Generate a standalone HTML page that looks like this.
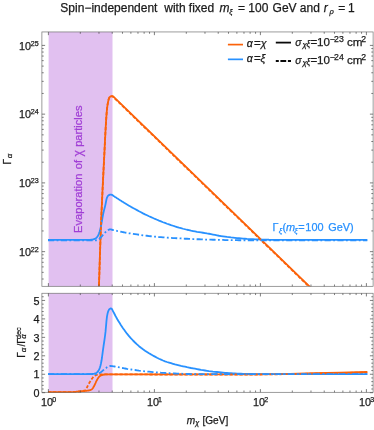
<!DOCTYPE html>
<html><head><meta charset="utf-8"><title>plot</title>
<style>html,body{margin:0;padding:0;background:#fff;}body{width:374px;height:430px;overflow:hidden;font-family:"Liberation Sans",sans-serif;}svg{display:block;}</style>
</head><body>
<svg width="374" height="430" viewBox="0 0 374 430" font-family="'Liberation Sans', sans-serif" fill="#1a1a1a" style="will-change:transform">
<defs>
<clipPath id="c1"><rect x="41.9" y="31.95" width="331.20000000000005" height="254.35000000000002"/></clipPath>
<clipPath id="c2"><rect x="41.9" y="293.25" width="331.20000000000005" height="99.75000000000001"/></clipPath>
</defs>
<rect width="374" height="430" fill="#fff"/>
<rect x="48.6" y="31.95" width="63.9" height="254.35000000000002" fill="#e1c0f0"/>
<rect x="48.6" y="293.25" width="63.9" height="99.05000000000001" fill="#e1c0f0"/>
<g clip-path="url(#c1)" fill="none" stroke-width="1.8" stroke-linejoin="round">
<path d="M98.2,310.0L98.5,300.6L98.8,291.2L99.1,281.8L99.4,272.3L99.7,262.7L100.0,253.2L100.3,244.0L100.6,235.4L100.9,227.4L101.2,220.0L101.5,212.9L101.8,206.2L102.1,199.6L102.4,193.2L102.7,186.8L103.0,180.7L103.3,174.7L103.6,168.8L103.9,162.9L104.2,157.0L104.5,150.9L104.8,144.7L105.1,138.6L105.4,132.7L105.7,127.3L106.0,122.2L106.3,117.5L106.6,113.6L106.9,110.2L107.2,107.4L107.5,105.2L107.8,103.3L108.1,101.7L108.4,100.4L108.7,99.2L109.0,98.3L109.3,97.7L109.6,97.3L109.9,96.9L110.2,96.7L110.5,96.5L110.8,96.3L111.1,96.3L111.4,96.2L111.7,96.2L112.0,96.2L112.3,96.2L112.6,96.2L112.9,96.3L113.2,96.5L113.5,96.8L113.8,97.1L114.1,97.3L114.4,97.6L114.7,97.9L115.0,98.2L115.3,98.5L115.6,98.8L115.9,99.1L116.0,99.1L312.0,288.9" stroke="#fb620a"/>
<path d="M48.0,240.2L88.0,240.2L90.0,240.1L90.5,240.1L91.0,240.0L91.5,240.0L92.0,239.9L92.5,239.8L93.0,239.7L93.5,239.6L94.0,239.4L94.5,239.2L95.0,239.0L95.5,238.7L96.0,238.4L96.5,237.9L97.0,237.4L97.5,236.7L98.0,235.9L98.5,234.8L99.0,233.6L99.5,232.2L100.0,230.6L100.5,228.6L101.0,226.3L101.5,223.9L102.0,220.9L102.5,217.8L103.0,215.0L103.5,212.7L104.0,210.6L104.5,208.7L105.0,206.7L105.5,204.6L106.0,202.0L106.5,199.5L107.0,197.8L107.5,196.8L108.0,196.1L108.5,195.6L109.0,195.3L109.5,195.1L110.0,194.9L110.5,194.9L111.0,194.9L111.5,195.0L112.0,195.2L112.5,195.4L113.0,195.8L113.5,196.2L114.0,196.5L114.5,196.8L115.0,197.2L115.5,197.5L116.0,197.8L116.5,198.1L117.0,198.5L117.5,198.8L118.0,199.1L118.5,199.4L119.0,199.8L119.5,200.1L120.0,200.4L120.5,200.7L121.0,201.0L121.5,201.3L122.0,201.7L122.5,202.0L123.0,202.3L123.5,202.6L124.0,202.9L124.5,203.2L125.0,203.5L127.0,204.7L129.0,205.9L131.0,207.1L133.0,208.2L135.0,209.3L137.0,210.4L139.0,211.5L141.0,212.5L143.0,213.6L145.0,214.6L147.0,215.5L149.0,216.5L151.0,217.4L153.0,218.3L155.0,219.2L157.0,220.0L159.0,220.9L161.0,221.7L163.0,222.5L165.0,223.2L167.0,224.0L169.0,224.7L171.0,225.4L173.0,226.0L175.0,226.7L177.0,227.3L179.0,227.9L181.0,228.4L183.0,229.0L185.0,229.5L187.0,230.0L189.0,230.4L191.0,230.9L193.0,231.3L195.0,231.7L197.0,232.1L199.0,232.4L201.0,232.7L203.0,233.0L205.0,233.3L207.0,233.7L209.0,234.0L211.0,234.4L213.0,234.8L215.0,235.2L217.0,235.6L219.0,236.0L221.0,236.3L223.0,236.6L225.0,236.9L227.0,237.2L229.0,237.4L231.0,237.7L233.0,237.9L235.0,238.1L237.0,238.4L239.0,238.5L241.0,238.7L243.0,238.9L245.0,239.0L247.0,239.2L249.0,239.3L251.0,239.4L253.0,239.5L255.0,239.6L257.0,239.7L259.0,239.7L261.0,239.8L263.0,239.8L265.0,239.9L267.0,239.9L269.0,240.0L290.0,240.1L320.0,240.2L345.0,240.2L367.3,240.2" stroke="#2891ff" transform="translate(0,-0.25)"/>
<path d="M98.2,310.0L98.5,300.6L98.8,291.2L99.1,281.8L99.4,272.3L99.7,262.7L100.0,253.2L100.3,244.0L100.6,235.4L100.9,227.4L101.2,220.0L101.5,212.9L101.8,206.2L102.1,199.6L102.4,193.2L102.7,186.8L103.0,180.7L103.3,174.7L103.6,168.8L103.9,162.9L104.2,157.0L104.5,150.9L104.8,144.7L105.1,138.6L105.4,132.7L105.7,127.3L106.0,122.2L106.3,117.5L106.6,113.6L106.9,110.2L107.2,107.4L107.5,105.2L107.8,103.3L108.1,101.7L108.4,100.4L108.7,99.2L109.0,98.3L109.3,97.7L109.6,97.3L109.9,96.9L110.2,96.7L110.5,96.5L110.8,96.4L111.1,96.3L111.3,96.3L111.6,96.3L111.9,96.3L112.2,96.3L112.5,96.3L112.7,96.5L113.0,96.8L113.3,97.0L113.6,97.3L113.8,97.6L114.1,97.9L114.4,98.2L114.7,98.5L115.0,98.8L115.3,99.1L115.6,99.4L115.7,99.4L311.7,289.2" stroke="#fb620a" stroke-dasharray="3.2 1.8"/>
<path d="M48.0,240.2L88.0,240.2L90.0,240.2L90.5,240.2L91.0,240.2L91.5,240.2L92.0,240.2L92.5,240.2L93.0,240.2L93.5,240.2L94.0,240.2L94.5,240.2L95.0,240.2L95.5,240.1L96.0,240.1L96.5,240.0L97.0,239.9L97.5,239.7L98.0,239.5L98.5,239.2L99.0,238.9L99.5,238.5L100.0,238.0L100.5,237.5L101.0,237.0L101.5,236.4L102.0,235.8L102.5,235.2L103.0,234.6L103.5,234.0L104.0,233.5L104.5,232.9L105.0,232.4L105.5,231.9L106.0,231.4L106.5,231.0L107.0,230.6L107.5,230.2L108.0,229.9L108.5,229.7L109.0,229.4L109.5,229.2L110.0,229.1L110.5,229.1L111.0,229.2L111.5,229.4L112.0,229.5L112.5,229.6L113.0,229.8L113.5,229.9L114.0,230.0L114.5,230.1L115.0,230.2L115.5,230.3L116.0,230.4L116.5,230.5L117.0,230.7L117.5,230.8L118.0,230.9L118.5,231.0L119.0,231.1L119.5,231.2L120.0,231.3L120.5,231.4L121.0,231.5L121.5,231.6L122.0,231.7L122.5,231.8L123.0,231.9L123.5,232.0L124.0,232.1L124.5,232.2L125.0,232.3L127.0,232.6L129.0,233.0L131.0,233.3L133.0,233.6L135.0,233.9L137.0,234.2L139.0,234.5L141.0,234.8L143.0,235.1L145.0,235.3L147.0,235.5L149.0,235.8L151.0,236.0L153.0,236.2L155.0,236.4L157.0,236.6L159.0,236.8L161.0,236.9L163.0,237.1L165.0,237.2L167.0,237.4L169.0,237.5L171.0,237.7L173.0,237.8L175.0,237.9L177.0,238.0L179.0,238.1L181.0,238.2L183.0,238.4L185.0,238.5L187.0,238.5L189.0,238.6L191.0,238.7L193.0,238.8L195.0,238.9L197.0,239.0L199.0,239.0L201.0,239.1L203.0,239.2L205.0,239.3L207.0,239.3L209.0,239.4L211.0,239.4L213.0,239.5L215.0,239.5L217.0,239.6L219.0,239.6L221.0,239.7L223.0,239.7L225.0,239.8L227.0,239.8L229.0,239.8L231.0,239.9L233.0,239.9L235.0,239.9L237.0,239.9L239.0,240.0L241.0,240.0L243.0,240.0L245.0,240.0L247.0,240.0L249.0,240.0L251.0,240.1L253.0,240.1L255.0,240.1L257.0,240.1L259.0,240.1L261.0,240.1L263.0,240.1L265.0,240.1L267.0,240.1L269.0,240.1L290.0,240.2L320.0,240.2L345.0,240.2L367.3,240.2" stroke="#2891ff" stroke-dasharray="6.2 2.4 1.8 2.4" transform="translate(0,0.25)"/>
</g>
<g clip-path="url(#c2)" fill="none" stroke-width="1.8" stroke-linejoin="round">
<path d="M48.0,392.1L60.0,392.1L70.0,392.1L76.0,391.8L76.5,391.7L77.0,391.7L77.5,391.6L78.0,391.6L78.5,391.5L79.0,391.5L79.5,391.4L80.0,391.4L80.5,391.3L81.0,391.3L81.5,391.2L82.0,391.2L82.5,391.1L83.0,391.1L83.5,391.0L84.0,391.0L84.5,391.0L85.0,390.9L85.5,390.9L86.0,390.8L86.5,390.8L87.0,390.7L87.5,390.7L88.0,390.6L88.5,390.5L89.0,390.4L89.5,390.4L90.0,390.2L90.5,390.1L91.0,389.8L91.5,389.5L92.0,389.1L92.5,388.6L93.0,387.9L93.5,387.1L94.0,386.2L94.5,385.3L95.0,384.2L95.5,383.1L96.0,381.9L96.5,380.9L97.0,380.0L97.5,379.1L98.0,378.2L98.5,377.5L99.0,376.9L99.5,376.4L100.0,376.0L100.5,375.7L101.0,375.5L101.5,375.2L102.0,375.1L102.5,374.9L103.0,374.8L103.5,374.6L104.0,374.5L104.5,374.5L105.0,374.4L105.5,374.4L106.0,374.4L106.5,374.4L107.0,374.4L107.5,374.4L108.0,374.4L108.5,374.4L109.0,374.4L109.5,374.4L110.0,374.4L110.5,374.4L111.0,374.4L111.5,374.4L112.0,374.4L160.0,374.4L200.0,374.4L230.0,374.4L260.0,374.3L290.0,373.8L314.0,373.2L340.0,372.7L367.3,372.0" stroke="#fb620a"/>
<path d="M48.0,374.2L88.0,374.2L90.0,374.2L90.5,374.2L91.0,374.2L91.5,374.1L92.0,374.1L92.5,374.0L93.0,373.9L93.5,373.9L94.0,373.8L94.5,373.6L95.0,373.5L95.5,373.3L96.0,373.1L96.5,372.8L97.0,372.4L97.5,372.0L98.0,371.4L98.5,370.6L99.0,369.7L99.5,368.6L100.0,367.2L100.5,365.5L101.0,363.3L101.5,360.8L102.0,357.5L102.5,353.6L103.0,349.8L103.5,346.3L104.0,343.0L104.5,339.7L105.0,336.0L105.5,331.9L106.0,326.4L106.5,320.6L107.0,316.4L107.5,313.8L108.0,311.9L108.5,310.7L109.0,309.7L109.5,309.1L110.0,308.7L110.5,308.4L111.0,308.5L111.5,308.7L112.0,309.2L112.5,310.1L113.0,311.2L113.5,312.1L114.0,313.0L114.5,314.0L115.0,315.0L115.5,316.0L116.0,316.9L116.5,317.8L117.0,318.7L117.5,319.6L118.0,320.4L118.5,321.2L119.0,322.0L119.5,322.8L120.0,323.6L120.5,324.4L121.0,325.2L121.5,325.9L122.0,326.7L122.5,327.5L123.0,328.2L123.5,328.9L124.0,329.6L124.5,330.3L125.0,331.0L127.0,333.7L129.0,336.1L131.0,338.4L133.0,340.5L135.0,342.5L137.0,344.4L139.0,346.2L141.0,347.8L143.0,349.3L145.0,350.7L147.0,352.0L149.0,353.3L151.0,354.4L153.0,355.6L155.0,356.6L157.0,357.7L159.0,358.7L161.0,359.6L163.0,360.5L165.0,361.3L167.0,362.0L169.0,362.6L171.0,363.2L173.0,363.8L175.0,364.4L177.0,364.9L179.0,365.4L181.0,365.9L183.0,366.3L185.0,366.7L187.0,367.2L189.0,367.6L191.0,368.0L193.0,368.3L195.0,368.7L197.0,369.1L199.0,369.5L201.0,369.9L203.0,370.2L205.0,370.5L207.0,370.8L209.0,371.1L211.0,371.3L213.0,371.6L215.0,371.8L217.0,372.0L219.0,372.2L221.0,372.4L223.0,372.6L225.0,372.8L227.0,372.9L229.0,373.1L231.0,373.2L233.0,373.3L235.0,373.4L237.0,373.6L239.0,373.7L241.0,373.7L243.0,373.8L245.0,373.9L247.0,373.9L249.0,374.0L251.0,374.0L253.0,374.1L255.0,374.1L257.0,374.1L259.0,374.1L261.0,374.2L263.0,374.2L265.0,374.2L267.0,374.2L269.0,374.2L290.0,374.2L320.0,374.2L345.0,374.2L367.3,374.2" stroke="#2891ff"/>
<path d="M48.0,392.1L60.0,392.1L70.0,392.1L76.0,391.8L76.5,391.8L77.0,391.8L77.5,391.7L78.0,391.7L78.5,391.6L79.0,391.6L79.5,391.6L80.0,391.5L80.5,391.5L81.0,391.4L81.5,391.3L82.0,391.2L82.5,391.1L83.0,391.0L83.5,390.9L84.0,390.7L84.5,390.6L85.0,390.4L85.5,390.1L86.0,389.4L86.5,388.4L87.0,387.4L87.5,386.3L88.0,385.2L88.5,384.3L89.0,383.4L89.5,382.6L90.0,381.8L90.5,380.9L91.0,380.1L91.5,379.4L92.0,378.6L92.5,378.0L93.0,377.3L93.5,376.7L94.0,376.3L94.5,375.9L95.0,375.6L95.5,375.4L96.0,375.1L96.5,374.9L97.0,374.8L97.5,374.7L98.0,374.6L98.5,374.5L99.0,374.5L99.5,374.4L100.0,374.4L100.5,374.4L101.0,374.4L101.5,374.4L102.0,374.4L102.5,374.4L103.0,374.4L103.5,374.4L104.0,374.4L104.5,374.4L105.0,374.4L105.5,374.4L106.0,374.4L106.5,374.4L107.0,374.4L107.5,374.4L108.0,374.4L108.5,374.4L109.0,374.4L109.5,374.4L110.0,374.4L110.5,374.4L111.0,374.4L111.5,374.4L112.0,374.4L160.0,374.5L200.0,374.5L230.0,374.5L260.0,374.5L290.0,374.1L314.0,373.6L340.0,373.0L367.3,372.4" stroke="#fb620a" stroke-dasharray="3.2 1.8"/>
<path d="M48.0,374.2L88.0,374.2L90.0,374.2L90.5,374.2L91.0,374.2L91.5,374.2L92.0,374.2L92.5,374.2L93.0,374.2L93.5,374.2L94.0,374.2L94.5,374.2L95.0,374.2L95.5,374.2L96.0,374.2L96.5,374.1L97.0,374.1L97.5,373.9L98.0,373.8L98.5,373.6L99.0,373.4L99.5,373.1L100.0,372.8L100.5,372.5L101.0,372.1L101.5,371.7L102.0,371.3L102.5,370.9L103.0,370.4L103.5,370.0L104.0,369.6L104.5,369.1L105.0,368.7L105.5,368.3L106.0,368.0L106.5,367.6L107.0,367.2L107.5,366.9L108.0,366.6L108.5,366.4L109.0,366.2L109.5,366.1L110.0,366.0L110.5,365.9L111.0,366.0L111.5,366.1L112.0,366.1L112.5,366.2L113.0,366.3L113.5,366.3L114.0,366.4L114.5,366.5L115.0,366.6L115.5,366.7L116.0,366.8L116.5,366.8L117.0,366.9L117.5,367.0L118.0,367.1L118.5,367.2L119.0,367.3L119.5,367.4L120.0,367.5L120.5,367.6L121.0,367.7L121.5,367.8L122.0,367.9L122.5,368.0L123.0,368.1L123.5,368.2L124.0,368.3L124.5,368.4L125.0,368.5L127.0,368.9L129.0,369.2L131.0,369.5L133.0,369.8L135.0,370.0L137.0,370.3L139.0,370.6L141.0,370.8L143.0,371.1L145.0,371.3L147.0,371.5L149.0,371.7L151.0,371.9L153.0,372.1L155.0,372.2L157.0,372.4L159.0,372.5L161.0,372.7L163.0,372.8L165.0,372.9L167.0,373.1L169.0,373.2L171.0,373.3L173.0,373.4L175.0,373.5L177.0,373.6L179.0,373.6L181.0,373.7L183.0,373.8L185.0,373.9L187.0,374.0L189.0,374.0L191.0,374.1L193.0,374.1L195.0,374.1L197.0,374.2L199.0,374.2L201.0,374.2L203.0,374.2L205.0,374.2L207.0,374.2L209.0,374.2L211.0,374.2L213.0,374.2L215.0,374.2L217.0,374.2L219.0,374.2L221.0,374.2L223.0,374.2L225.0,374.2L227.0,374.2L229.0,374.2L231.0,374.2L233.0,374.2L235.0,374.2L237.0,374.2L239.0,374.2L241.0,374.2L243.0,374.2L245.0,374.2L247.0,374.2L249.0,374.2L251.0,374.2L253.0,374.2L255.0,374.2L257.0,374.2L259.0,374.2L261.0,374.2L263.0,374.2L265.0,374.2L267.0,374.2L269.0,374.2L290.0,374.2L320.0,374.2L345.0,374.2L367.3,374.2" stroke="#2891ff" stroke-dasharray="6.2 2.4 1.8 2.4"/>
</g>
<g fill="none" stroke="#727272" stroke-width="0.7">
<rect x="41.9" y="31.95" width="331.20000000000005" height="254.35000000000002"/>
<rect x="41.9" y="293.25" width="331.20000000000005" height="99.05000000000001"/>
<path stroke="#484848" stroke-width="0.7" d="M48.40,286.30L48.40,283.10M48.40,31.95L48.40,35.15M48.40,392.30L48.40,389.10M48.40,293.25L48.40,296.45M80.31,286.30L80.31,284.50M80.31,31.95L80.31,33.75M80.31,392.30L80.31,390.50M80.31,293.25L80.31,295.05M98.97,286.30L98.97,284.50M98.97,31.95L98.97,33.75M98.97,392.30L98.97,390.50M98.97,293.25L98.97,295.05M112.22,286.30L112.22,284.50M112.22,31.95L112.22,33.75M112.22,392.30L112.22,390.50M112.22,293.25L112.22,295.05M122.49,286.30L122.49,284.50M122.49,31.95L122.49,33.75M122.49,392.30L122.49,390.50M122.49,293.25L122.49,295.05M130.88,286.30L130.88,284.50M130.88,31.95L130.88,33.75M130.88,392.30L130.88,390.50M130.88,293.25L130.88,295.05M137.98,286.30L137.98,284.50M137.98,31.95L137.98,33.75M137.98,392.30L137.98,390.50M137.98,293.25L137.98,295.05M144.13,286.30L144.13,284.50M144.13,31.95L144.13,33.75M144.13,392.30L144.13,390.50M144.13,293.25L144.13,295.05M149.55,286.30L149.55,284.50M149.55,31.95L149.55,33.75M149.55,392.30L149.55,390.50M149.55,293.25L149.55,295.05M154.40,286.30L154.40,283.10M154.40,31.95L154.40,35.15M154.40,392.30L154.40,389.10M154.40,293.25L154.40,296.45M186.31,286.30L186.31,284.50M186.31,31.95L186.31,33.75M186.31,392.30L186.31,390.50M186.31,293.25L186.31,295.05M204.97,286.30L204.97,284.50M204.97,31.95L204.97,33.75M204.97,392.30L204.97,390.50M204.97,293.25L204.97,295.05M218.22,286.30L218.22,284.50M218.22,31.95L218.22,33.75M218.22,392.30L218.22,390.50M218.22,293.25L218.22,295.05M228.49,286.30L228.49,284.50M228.49,31.95L228.49,33.75M228.49,392.30L228.49,390.50M228.49,293.25L228.49,295.05M236.88,286.30L236.88,284.50M236.88,31.95L236.88,33.75M236.88,392.30L236.88,390.50M236.88,293.25L236.88,295.05M243.98,286.30L243.98,284.50M243.98,31.95L243.98,33.75M243.98,392.30L243.98,390.50M243.98,293.25L243.98,295.05M250.13,286.30L250.13,284.50M250.13,31.95L250.13,33.75M250.13,392.30L250.13,390.50M250.13,293.25L250.13,295.05M255.55,286.30L255.55,284.50M255.55,31.95L255.55,33.75M255.55,392.30L255.55,390.50M255.55,293.25L255.55,295.05M260.40,286.30L260.40,283.10M260.40,31.95L260.40,35.15M260.40,392.30L260.40,389.10M260.40,293.25L260.40,296.45M292.31,286.30L292.31,284.50M292.31,31.95L292.31,33.75M292.31,392.30L292.31,390.50M292.31,293.25L292.31,295.05M310.97,286.30L310.97,284.50M310.97,31.95L310.97,33.75M310.97,392.30L310.97,390.50M310.97,293.25L310.97,295.05M324.22,286.30L324.22,284.50M324.22,31.95L324.22,33.75M324.22,392.30L324.22,390.50M324.22,293.25L324.22,295.05M334.49,286.30L334.49,284.50M334.49,31.95L334.49,33.75M334.49,392.30L334.49,390.50M334.49,293.25L334.49,295.05M342.88,286.30L342.88,284.50M342.88,31.95L342.88,33.75M342.88,392.30L342.88,390.50M342.88,293.25L342.88,295.05M349.98,286.30L349.98,284.50M349.98,31.95L349.98,33.75M349.98,392.30L349.98,390.50M349.98,293.25L349.98,295.05M356.13,286.30L356.13,284.50M356.13,31.95L356.13,33.75M356.13,392.30L356.13,390.50M356.13,293.25L356.13,295.05M361.55,286.30L361.55,284.50M361.55,31.95L361.55,33.75M361.55,392.30L361.55,390.50M361.55,293.25L361.55,295.05M366.40,286.30L366.40,283.10M366.40,31.95L366.40,35.15M366.40,392.30L366.40,389.10M366.40,293.25L366.40,296.45M41.90,279.01L43.70,279.01M373.10,279.01L371.30,279.01M41.90,272.35L43.70,272.35M373.10,272.35L371.30,272.35M41.90,266.90L43.70,266.90M373.10,266.90L371.30,266.90M41.90,262.30L43.70,262.30M373.10,262.30L371.30,262.30M41.90,258.31L43.70,258.31M373.10,258.31L371.30,258.31M41.90,254.80L43.70,254.80M373.10,254.80L371.30,254.80M41.90,251.65L45.10,251.65M373.10,251.65L369.90,251.65M41.90,230.95L43.70,230.95M373.10,230.95L371.30,230.95M41.90,218.85L43.70,218.85M373.10,218.85L371.30,218.85M41.90,210.26L43.70,210.26M373.10,210.26L371.30,210.26M41.90,203.60L43.70,203.60M373.10,203.60L371.30,203.60M41.90,198.15L43.70,198.15M373.10,198.15L371.30,198.15M41.90,193.55L43.70,193.55M373.10,193.55L371.30,193.55M41.90,189.56L43.70,189.56M373.10,189.56L371.30,189.56M41.90,186.05L43.70,186.05M373.10,186.05L371.30,186.05M41.90,182.90L45.10,182.90M373.10,182.90L369.90,182.90M41.90,162.20L43.70,162.20M373.10,162.20L371.30,162.20M41.90,150.10L43.70,150.10M373.10,150.10L371.30,150.10M41.90,141.51L43.70,141.51M373.10,141.51L371.30,141.51M41.90,134.85L43.70,134.85M373.10,134.85L371.30,134.85M41.90,129.40L43.70,129.40M373.10,129.40L371.30,129.40M41.90,124.80L43.70,124.80M373.10,124.80L371.30,124.80M41.90,120.81L43.70,120.81M373.10,120.81L371.30,120.81M41.90,117.30L43.70,117.30M373.10,117.30L371.30,117.30M41.90,114.15L45.10,114.15M373.10,114.15L369.90,114.15M41.90,93.45L43.70,93.45M373.10,93.45L371.30,93.45M41.90,81.35L43.70,81.35M373.10,81.35L371.30,81.35M41.90,72.76L43.70,72.76M373.10,72.76L371.30,72.76M41.90,66.10L43.70,66.10M373.10,66.10L371.30,66.10M41.90,60.65L43.70,60.65M373.10,60.65L371.30,60.65M41.90,56.05L43.70,56.05M373.10,56.05L371.30,56.05M41.90,52.06L43.70,52.06M373.10,52.06L371.30,52.06M41.90,48.55L43.70,48.55M373.10,48.55L371.30,48.55M41.90,45.40L45.10,45.40M373.10,45.40L369.90,45.40M41.90,392.70L45.10,392.70M373.10,392.70L369.90,392.70M41.90,389.01L43.70,389.01M373.10,389.01L371.30,389.01M41.90,385.32L43.70,385.32M373.10,385.32L371.30,385.32M41.90,381.63L43.70,381.63M373.10,381.63L371.30,381.63M41.90,377.94L43.70,377.94M373.10,377.94L371.30,377.94M41.90,374.25L45.10,374.25M373.10,374.25L369.90,374.25M41.90,370.56L43.70,370.56M373.10,370.56L371.30,370.56M41.90,366.87L43.70,366.87M373.10,366.87L371.30,366.87M41.90,363.18L43.70,363.18M373.10,363.18L371.30,363.18M41.90,359.49L43.70,359.49M373.10,359.49L371.30,359.49M41.90,355.80L45.10,355.80M373.10,355.80L369.90,355.80M41.90,352.11L43.70,352.11M373.10,352.11L371.30,352.11M41.90,348.42L43.70,348.42M373.10,348.42L371.30,348.42M41.90,344.73L43.70,344.73M373.10,344.73L371.30,344.73M41.90,341.04L43.70,341.04M373.10,341.04L371.30,341.04M41.90,337.35L45.10,337.35M373.10,337.35L369.90,337.35M41.90,333.66L43.70,333.66M373.10,333.66L371.30,333.66M41.90,329.97L43.70,329.97M373.10,329.97L371.30,329.97M41.90,326.28L43.70,326.28M373.10,326.28L371.30,326.28M41.90,322.59L43.70,322.59M373.10,322.59L371.30,322.59M41.90,318.90L45.10,318.90M373.10,318.90L369.90,318.90M41.90,315.21L43.70,315.21M373.10,315.21L371.30,315.21M41.90,311.52L43.70,311.52M373.10,311.52L371.30,311.52M41.90,307.83L43.70,307.83M373.10,307.83L371.30,307.83M41.90,304.14L43.70,304.14M373.10,304.14L371.30,304.14M41.90,300.45L45.10,300.45M373.10,300.45L369.90,300.45M41.90,296.76L43.70,296.76M373.10,296.76L371.30,296.76"/>
</g>
<g color="#1a1a1a" fill="currentColor" stroke="currentColor" stroke-width="0.25">
<text x="60.36" y="12.00" font-size="12.0">Spin−independent</text>
<text x="164.22" y="12.00" font-size="12.0">with</text>
<text x="188.83" y="12.00" font-size="12.0">fixed</text>
<text x="219.50" y="12.00" font-size="12.0" font-style="italic">m</text>
<text x="237.91" y="12.00" font-size="12.0">=</text>
<text x="248.29" y="12.00" font-size="12.0">100</text>
<text x="272.60" y="12.00" font-size="12.0">GeV</text>
<text x="299.79" y="12.00" font-size="12.0">and</text>
<text x="323.70" y="12.00" font-size="12.0" font-style="italic">r</text>
<text x="338.21" y="12.00" font-size="12.0">=</text>
<text x="347.99" y="12.00" font-size="12.0">1</text>
<text x="229.30" y="14.30" font-size="7.5" font-style="italic">ξ</text>
<text x="329.38" y="14.30" font-size="7.5" font-style="italic">ρ</text>
<text transform="translate(82.20,232.91) rotate(-90)" font-size="11.1" color="#a13fd6">Evaporation</text>
<text transform="translate(82.20,169.17) rotate(-90)" font-size="11.1" color="#a13fd6">of</text>
<text transform="translate(82.20,156.43) rotate(-90)" font-size="12.3" color="#a13fd6">χ</text>
<text transform="translate(82.20,146.82) rotate(-90)" font-size="11.1" color="#a13fd6">particles</text>
<text x="18.98" y="255.75" font-size="10.8">10</text>
<text x="30.84" y="251.85" font-size="7.1">22</text>
<text x="18.98" y="187.00" font-size="10.8">10</text>
<text x="30.84" y="183.10" font-size="7.1">23</text>
<text x="18.98" y="118.25" font-size="10.8">10</text>
<text x="30.84" y="114.35" font-size="7.1">24</text>
<text x="18.98" y="49.50" font-size="10.8">10</text>
<text x="30.84" y="45.60" font-size="7.1">25</text>
<text x="39.52" y="396.85" font-size="10.8" text-anchor="end">0</text>
<text x="39.63" y="378.40" font-size="10.8" text-anchor="end">1</text>
<text x="39.64" y="359.95" font-size="10.8" text-anchor="end">2</text>
<text x="39.57" y="341.50" font-size="10.8" text-anchor="end">3</text>
<text x="39.42" y="323.05" font-size="10.8" text-anchor="end">4</text>
<text x="39.55" y="304.60" font-size="10.8" text-anchor="end">5</text>
<text x="41.08" y="406.00" font-size="10.8">10</text>
<text x="52.32" y="402.00" font-size="7.1">0</text>
<text x="147.08" y="406.00" font-size="10.8">10</text>
<text x="158.06" y="402.00" font-size="7.1">1</text>
<text x="253.08" y="406.00" font-size="10.8">10</text>
<text x="264.24" y="402.00" font-size="7.1">2</text>
<text x="359.08" y="406.00" font-size="10.8">10</text>
<text x="370.33" y="402.00" font-size="7.1">3</text>
<text transform="translate(10.50,164.53) rotate(-90)" font-size="10.1">Γ</text>
<text transform="translate(12.20,158.17) rotate(-90)" font-size="7.8" font-style="italic">α</text>
<text transform="translate(24.50,357.83) rotate(-90)" font-size="10.1">Γ</text>
<text transform="translate(26.00,352.17) rotate(-90)" font-size="7.8" font-style="italic">α</text>
<text transform="translate(24.50,346.50) rotate(-90)" font-size="10.1">/</text>
<text transform="translate(24.50,343.73) rotate(-90)" font-size="10.1">Γ</text>
<text transform="translate(26.40,338.67) rotate(-90)" font-size="7.8" font-style="italic">α</text>
<text transform="translate(20.70,339.11) rotate(-90)" font-size="7.4">dec</text>
<text x="186.63" y="423.80" font-size="10.1" font-style="italic">m</text>
<text x="195.13" y="425.40" font-size="7.3" font-style="italic">χ</text>
<text x="202.48" y="423.80" font-size="10.1">[GeV]</text>
<text x="272.46" y="230.50" font-size="10.9" color="#2891ff">Γ</text>
<text x="278.79" y="232.80" font-size="7.8" font-style="italic" color="#2891ff">ξ</text>
<text x="282.42" y="230.50" font-size="10.9" color="#2891ff">(</text>
<text x="286.12" y="230.50" font-size="10.9" font-style="italic" color="#2891ff">m</text>
<text x="294.19" y="232.80" font-size="7.8" font-style="italic" color="#2891ff">ξ</text>
<text x="298.22" y="230.50" font-size="10.9" color="#2891ff">=</text>
<text x="305.37" y="230.50" font-size="10.9" color="#2891ff">100</text>
<text x="328.25" y="230.50" font-size="10.9" color="#2891ff">GeV)</text>
<text x="246.64" y="47.40" font-size="10.6" font-style="italic">α</text>
<text x="253.93" y="47.40" font-size="11.6">=</text>
<text x="260.87" y="47.40" font-size="10.6" font-style="italic">χ</text>
<text x="246.64" y="62.10" font-size="10.6" font-style="italic">α</text>
<text x="253.93" y="62.10" font-size="11.6">=</text>
<text x="260.50" y="62.10" font-size="11.0" font-style="italic">ξ</text>
<text x="295.35" y="45.50" font-size="10.4" font-style="italic">σ</text>
<text x="302.57" y="47.00" font-size="7.8" font-style="italic">χ</text>
<text x="306.47" y="47.00" font-size="8.6" font-style="italic">ξ</text>
<text x="310.43" y="45.50" font-size="11.6">=</text>
<text x="317.12" y="45.50" font-size="11.6">10</text>
<text x="329.77" y="41.80" font-size="8.7">−</text>
<text x="334.06" y="41.80" font-size="8.7">23</text>
<text x="347.01" y="45.50" font-size="11.6">cm</text>
<text x="361.26" y="41.80" font-size="8.7">2</text>
<text x="295.35" y="63.50" font-size="10.4" font-style="italic">σ</text>
<text x="302.57" y="65.00" font-size="7.8" font-style="italic">χ</text>
<text x="306.47" y="65.00" font-size="8.6" font-style="italic">ξ</text>
<text x="310.43" y="63.50" font-size="11.6">=</text>
<text x="317.12" y="63.50" font-size="11.6">10</text>
<text x="329.77" y="59.80" font-size="8.7">−</text>
<text x="334.06" y="59.80" font-size="8.7">24</text>
<text x="347.01" y="63.50" font-size="11.6">cm</text>
<text x="361.26" y="59.80" font-size="8.7">2</text>
</g>
<g fill="none" stroke-width="1.7">
<line x1="227.9" y1="44.6" x2="243" y2="44.6" stroke="#fb620a"/>
<line x1="227.9" y1="59.35" x2="243" y2="59.35" stroke="#2891ff"/>
<line x1="275.8" y1="42.6" x2="291" y2="42.6" stroke="#0a0a0a" stroke-width="1.8"/>
<line x1="275.8" y1="61.0" x2="291" y2="61.0" stroke="#0a0a0a" stroke-width="1.8" stroke-dasharray="3 1.6 5.8 1.7 3.1"/>
</g>
</svg>
</body></html>
